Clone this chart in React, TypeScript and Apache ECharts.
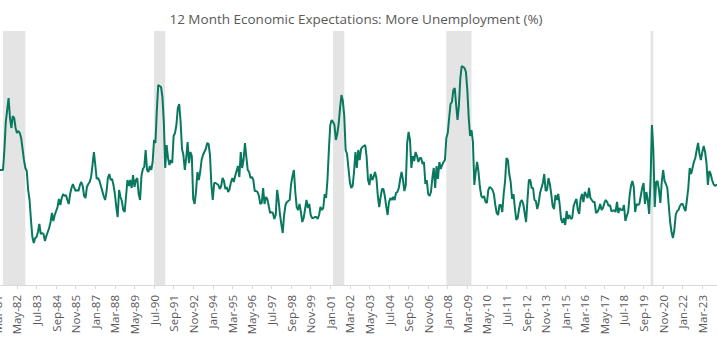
import React, { useEffect, useRef } from 'react';
import * as echarts from 'echarts';

const TITLE = '12 Month Economic Expectations: More Unemployment (%)';

// Monthly series, starting March 1981
const START_YEAR = 1981;
const START_MONTH_INDEX = 2; // March
const MONTH_NAMES = ['Jan', 'Feb', 'Mar', 'Apr', 'May', 'Jun', 'Jul', 'Aug', 'Sep', 'Oct', 'Nov', 'Dec'];

const moreUnemployment: number[] = [
  46.0, 46.0, 46.0, 46.0, 46.0, 54.0, 65.2, 70.0, 74.8, 66.8, 62.8, 67.6,
  66.8, 62.8, 60.8, 61.6, 60.8, 58.8, 54.4, 50.0, 46.8, 45.6, 38.0, 34.0,
  26.0, 19.2, 16.8, 18.8, 19.2, 21.2, 24.4, 20.4, 20.8, 20.4, 17.6, 19.6,
  21.2, 22.8, 25.2, 28.8, 25.6, 28.0, 29.6, 31.2, 34.4, 32.0, 34.8, 36.4,
  35.6, 36.0, 34.0, 32.4, 36.4, 38.8, 40.4, 38.8, 37.6, 38.0, 37.6, 40.0,
  41.2, 39.6, 35.6, 34.8, 39.2, 40.4, 41.2, 43.2, 48.0, 53.2, 48.0, 42.4,
  42.8, 41.6, 39.6, 37.6, 35.6, 34.0, 37.2, 42.8, 44.4, 42.0, 42.4, 40.0,
  36.4, 31.2, 27.2, 38.0, 35.2, 33.6, 30.0, 29.2, 35.6, 42.0, 39.6, 42.0,
  38.8, 44.0, 39.2, 42.0, 42.8, 36.4, 34.0, 43.6, 46.4, 47.2, 54.0, 46.0,
  45.2, 47.6, 46.0, 49.2, 58.0, 56.8, 70.0, 80.0, 79.6, 79.2, 75.2, 65.2,
  46.8, 56.0, 50.8, 48.0, 50.0, 48.8, 59.6, 60.8, 64.0, 70.8, 72.4, 65.2,
  54.4, 52.0, 46.0, 50.8, 57.2, 48.8, 53.2, 51.6, 34.4, 32.4, 37.2, 45.2,
  42.0, 45.2, 50.0, 52.0, 53.2, 54.4, 56.8, 56.4, 52.0, 40.0, 34.0, 40.8,
  40.8, 40.4, 40.0, 38.4, 39.6, 42.8, 41.6, 38.4, 39.2, 37.2, 38.4, 41.2,
  42.8, 41.2, 43.6, 45.6, 47.6, 43.2, 53.2, 46.8, 50.0, 56.8, 51.2, 46.0,
  45.2, 42.8, 43.2, 42.0, 37.6, 37.6, 37.2, 35.6, 32.4, 32.8, 38.8, 32.4,
  35.2, 34.4, 31.6, 28.8, 29.2, 28.8, 26.4, 28.0, 38.0, 34.0, 28.4, 24.4,
  20.8, 28.0, 32.0, 33.2, 33.6, 34.0, 40.4, 43.6, 46.0, 37.2, 31.2, 30.0,
  32.4, 29.2, 25.2, 26.8, 30.4, 34.0, 30.8, 32.4, 28.0, 26.8, 26.8, 27.2,
  27.2, 26.4, 28.0, 31.2, 30.0, 30.8, 36.4, 34.8, 42.0, 54.0, 64.0, 66.0,
  65.2, 64.0, 58.0, 60.4, 64.4, 70.8, 76.0, 73.6, 67.6, 54.0, 52.4, 46.8,
  41.2, 38.8, 39.6, 45.2, 53.2, 46.8, 54.0, 50.0, 54.4, 55.2, 55.6, 56.0,
  51.2, 42.0, 40.0, 44.4, 42.0, 43.2, 45.2, 42.8, 35.6, 31.2, 35.2, 38.4,
  38.4, 35.6, 31.6, 28.0, 33.2, 34.8, 34.0, 35.2, 34.0, 36.8, 37.2, 38.8,
  42.4, 45.2, 42.0, 37.6, 40.0, 56.8, 61.2, 58.0, 46.8, 51.6, 49.6, 53.2,
  51.6, 49.2, 50.8, 50.8, 48.4, 49.2, 40.4, 42.0, 36.4, 35.6, 37.2, 42.8,
  46.8, 38.8, 47.6, 42.4, 49.2, 46.4, 48.0, 49.2, 50.0, 58.8, 60.8, 66.8,
  72.4, 73.2, 78.0, 78.8, 72.0, 66.0, 72.0, 82.8, 87.6, 87.2, 86.8, 85.2,
  78.0, 66.8, 59.6, 62.0, 57.2, 40.0, 45.2, 49.2, 45.2, 39.2, 35.6, 34.8,
  35.6, 33.2, 32.8, 38.0, 39.2, 38.8, 38.0, 36.4, 32.0, 28.8, 28.0, 32.0,
  32.0, 29.2, 36.4, 41.6, 50.8, 50.0, 44.4, 41.2, 34.4, 36.4, 30.8, 26.0,
  26.8, 30.4, 33.2, 34.0, 32.4, 28.8, 25.2, 34.0, 42.0, 42.0, 38.8, 38.8,
  34.0, 33.6, 30.4, 32.8, 36.8, 38.8, 40.8, 44.4, 37.6, 38.0, 42.8, 40.4,
  36.4, 31.6, 30.4, 36.0, 34.0, 36.4, 32.4, 26.4, 24.8, 26.8, 24.0, 29.6,
  26.4, 28.0, 26.4, 26.8, 31.6, 33.2, 34.4, 30.0, 28.4, 34.4, 36.4, 33.2,
  37.2, 36.0, 34.8, 38.8, 34.8, 34.0, 33.2, 33.2, 28.8, 29.2, 30.4, 32.4,
  30.0, 30.8, 32.8, 34.0, 33.2, 31.6, 32.0, 29.6, 29.6, 30.0, 29.2, 33.2,
  28.8, 30.8, 30.0, 30.0, 32.0, 25.6, 27.6, 29.2, 35.6, 39.6, 41.6, 39.2,
  29.2, 32.4, 32.0, 32.4, 35.6, 38.8, 40.8, 32.4, 37.2, 34.0, 28.4, 42.0,
  64.0, 54.0, 31.2, 41.2, 41.6, 38.0, 32.8, 41.2, 46.0, 41.6, 40.4, 38.8,
  32.0, 25.2, 21.2, 18.8, 22.0, 28.0, 29.6, 30.0, 31.6, 32.4, 32.4, 30.8,
  29.6, 34.0, 38.8, 46.8, 44.4, 46.8, 49.2, 50.8, 54.0, 56.8, 52.4, 50.0,
  53.2, 55.6, 53.2, 48.8, 40.0, 45.6, 44.4, 42.0, 40.4, 39.6, 40.0, 40.0,
];

// NBER recession periods (start, end)
const recessionStarts = ['Jul-81', 'Jul-90', 'Mar-01', 'Dec-07', 'Feb-20'];
const recessionEnds = ['Nov-82', 'Mar-91', 'Nov-01', 'Jun-09', 'Apr-20'];

const LABEL_STEP = 14;

function monthLabel(i: number): string {
  const total = START_MONTH_INDEX + i;
  const m = total % 12;
  const y = START_YEAR + Math.floor(total / 12);
  return `${MONTH_NAMES[m]}-${String(y % 100).padStart(2, '0')}`;
}

const categories = moreUnemployment.map((_, i) => monthLabel(i));

// layout constants
const OFFSET = 40;
const BAND = 1.3986;

export default function App() {
  const ref = useRef<HTMLDivElement>(null);

  useEffect(() => {
    const chart = echarts.init(ref.current!, undefined, { renderer: 'svg' });
    const showEvery = (index: number) => index % LABEL_STEP === 0;
    chart.setOption({
      animation: false,
      backgroundColor: '#ffffff',
      graphic: [
        {
          type: 'text',
          x: OFFSET + 356,
          y: 19,
          style: {
            text: TITLE,
            fill: '#595959',
            font: '13.5px "Open Sans", sans-serif',
            textAlign: 'center',
            textVerticalAlign: 'middle',
          },
        },
      ],
      grid: {
        left: OFFSET - 3.3,
        top: 31,
        width: categories.length * BAND,
        height: 254,
        containLabel: false,
      },
      xAxis: {
        type: 'category',
        data: categories,
        boundaryGap: true,
        axisLine: { show: true, lineStyle: { color: '#d9d9d9', width: 1 } },
        axisTick: {
          show: true,
          interval: showEvery,
          alignWithLabel: true,
          length: 4,
          lineStyle: { color: '#d9d9d9' },
        },
        axisLabel: {
          interval: showEvery,
          rotate: 90,
          margin: 10,
          color: '#595959',
          fontSize: 11.5,
          fontFamily: '"Open Sans", sans-serif',
        },
        splitLine: { show: false },
      },
      yAxis: {
        type: 'value',
        min: 0,
        max: 101.6,
        show: false,
        splitLine: { show: false },
      },
      series: [
        {
          type: 'line',
          data: moreUnemployment,
          showSymbol: false,
          symbol: 'none',
          lineStyle: { color: '#08795f', width: 2 },
          itemStyle: { color: '#08795f' },
          markArea: {
            silent: true,
            itemStyle: { color: '#e4e4e4' },
            data: recessionStarts.map((s, k) => [{ xAxis: s }, { xAxis: recessionEnds[k] }]),
          },
        },
      ],
    });
    return () => chart.dispose();
  }, []);

  return (
    <div
      style={{
        position: 'fixed',
        left: 0,
        top: 0,
        width: 717,
        height: 355,
        overflow: 'hidden',
        background: '#ffffff',
      }}
    >
      <div
        ref={ref}
        style={{ position: 'absolute', left: -OFFSET, top: 0, width: OFFSET * 2 + 717, height: 355 }}
      />
    </div>
  );
}
